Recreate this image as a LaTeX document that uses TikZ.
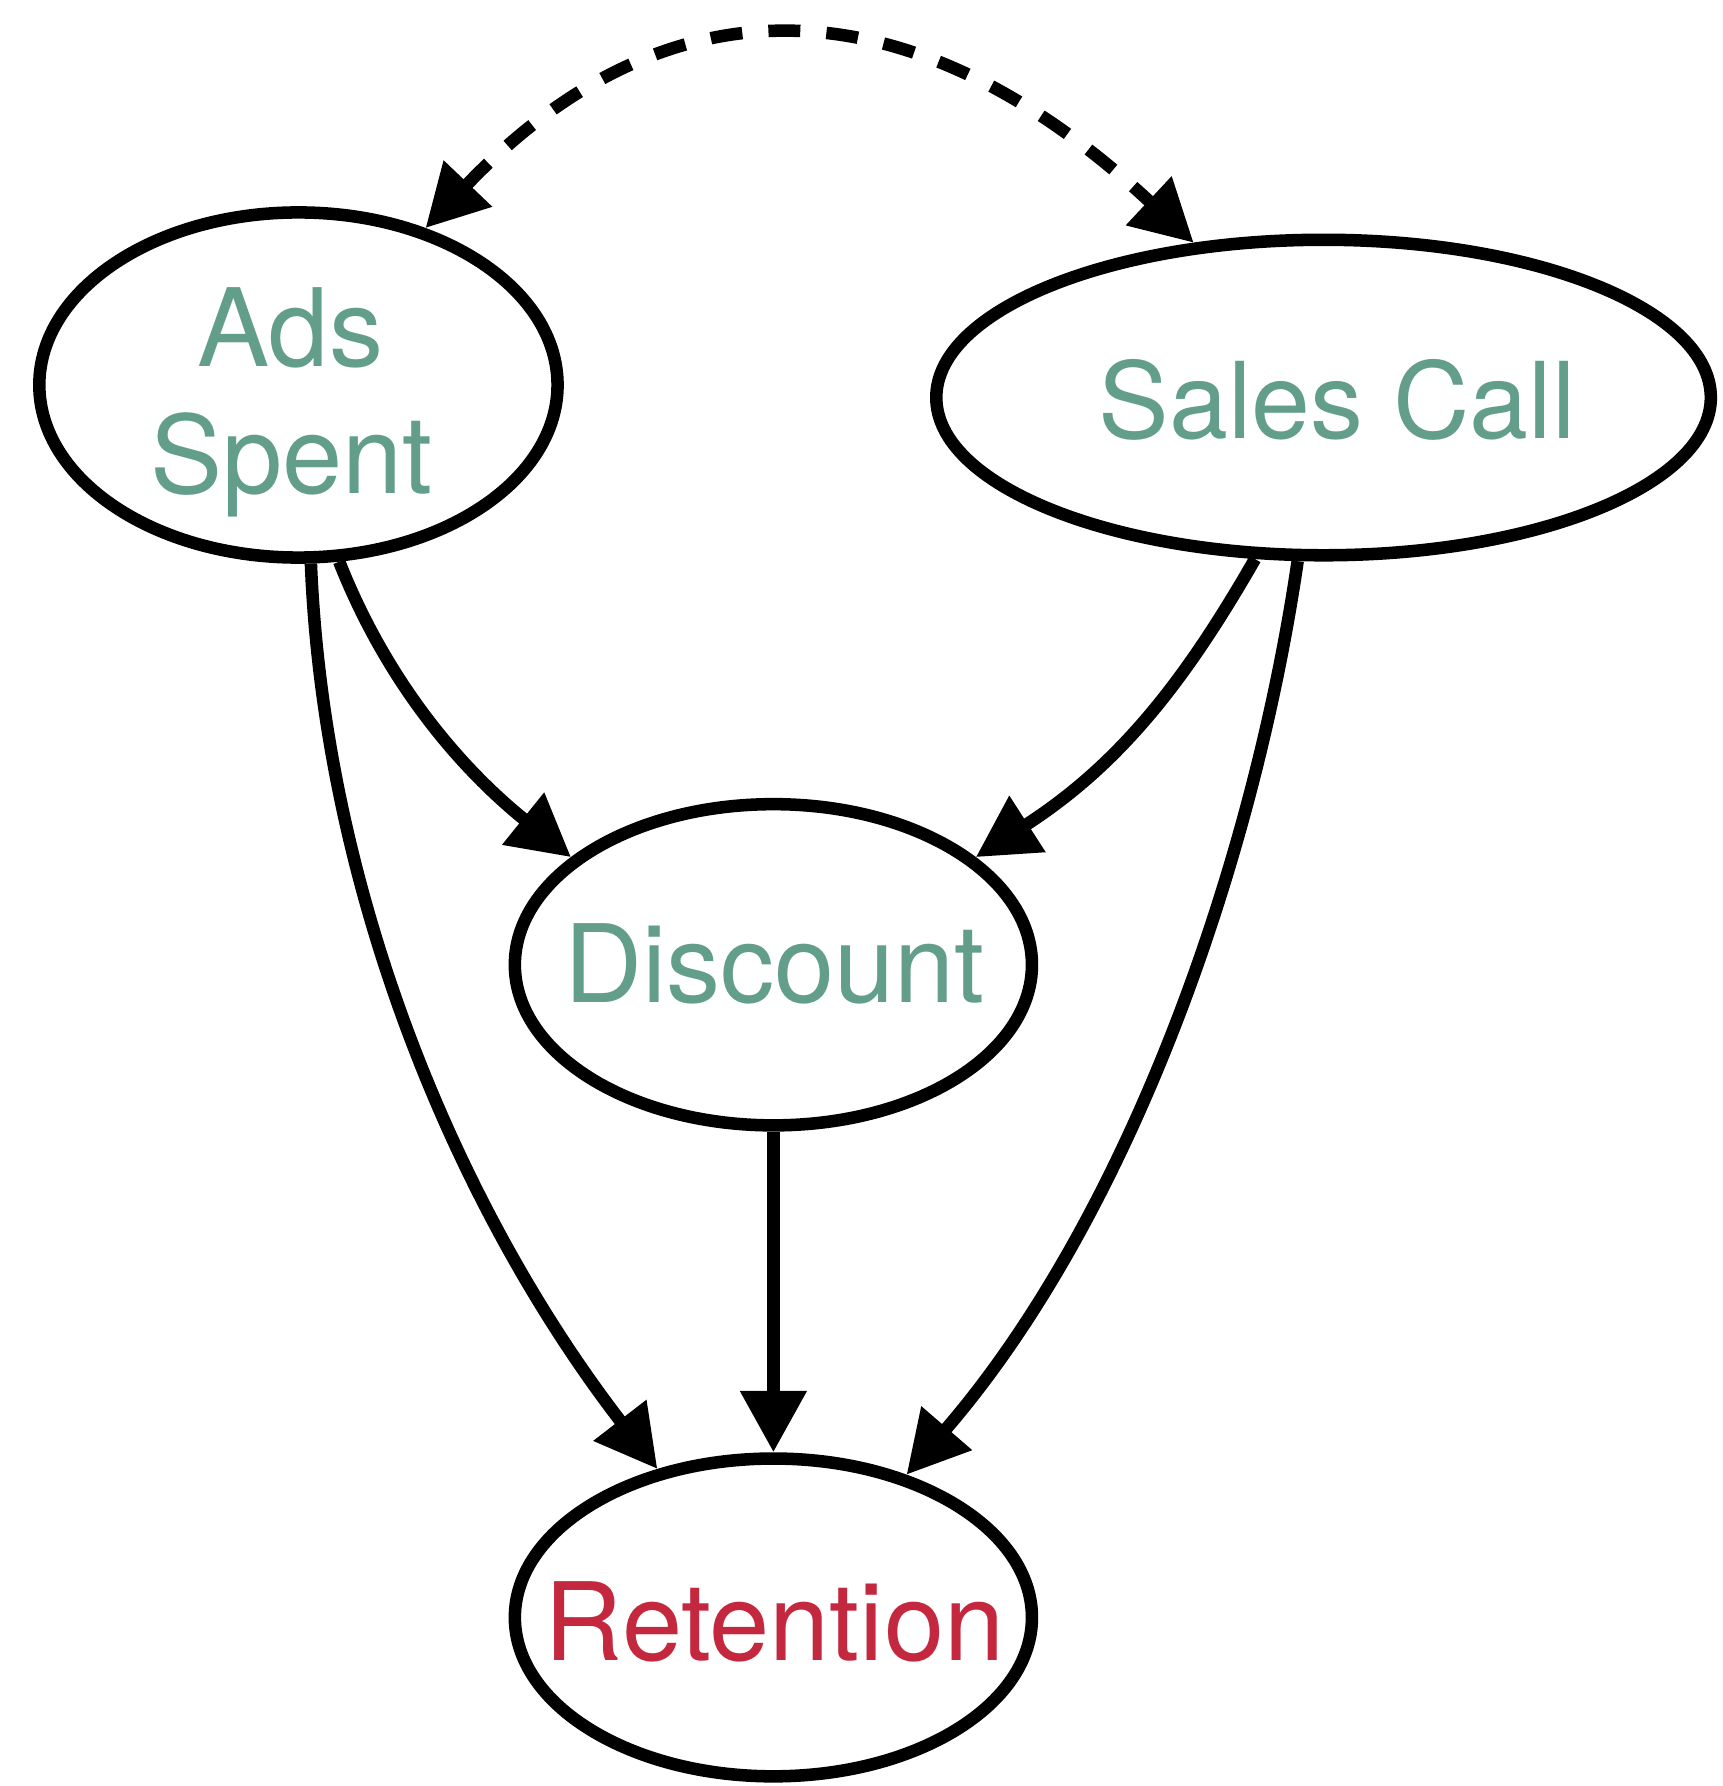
\documentclass[tikz,border=0pt]{standalone}
\usepackage{fontspec}
\setmainfont{TeX Gyre Heros}
\usetikzlibrary{shapes.geometric,arrows.meta}
\definecolor{lblgreen}{HTML}{629E89}
\definecolor{lblred}{HTML}{C3283F}
\begin{document}
\begin{tikzpicture}[x=1pt,y=-1pt,
  varnode/.style={ellipse, draw=black, line width=11pt, inner sep=0pt},
  lab/.style={inner sep=0pt, anchor=base, font=\fontsize{95}{114}\selectfont, text=lblgreen},
  arr/.style={line width=11pt, -{Triangle[length=54pt,width=56pt]}},
  dasharr/.style={line width=11pt, dash pattern=on 28pt off 23pt,
    {Triangle[length=54pt,width=56pt]}-{Triangle[length=54pt,width=56pt]}}]
\useasboundingbox (0,0) rectangle (1512,1568);
% variables
\node[varnode, minimum width=455pt, minimum height=303pt] (ads) at (262,338) {};
\node[varnode, minimum width=680pt, minimum height=277pt] (sales) at (1162,349) {};
\node[varnode, minimum width=454pt, minimum height=282pt] (disc) at (679,847) {};
\node[varnode, minimum width=454pt, minimum height=279pt] (ret) at (679,1420) {};
% labels
\node[lab] (adsT1) at (255,322) {Ads};
\node[lab] (adsT2) at (256,433) {Spent};
\node[lab, font=\fontsize{93}{112}\selectfont] (salesT) at (1174,385) {Sales Call};
\node[lab] (discT) at (680,880) {Discount};
\node[lab, text=lblred] (retT) at (680,1458) {Retention};
% connectors
\draw[arr] (ads.-77) .. controls (340,600) and (405,675) .. (disc.152);
\draw[arr] (sales.-113) .. controls (1042,595) and (985,670) .. (disc.28);
\draw[arr] (ads.-86) .. controls (285,790) and (406,1068) .. (ret.128);
\draw[arr] (disc.south) -- (ret.north);
\draw[arr] (sales.-99) .. controls (1100,760) and (990,1070) .. (ret.47);
\draw[dasharr] (ads.51) .. controls (596,-33) and (811,-8) .. (sales.130);
\end{tikzpicture}
\end{document}
